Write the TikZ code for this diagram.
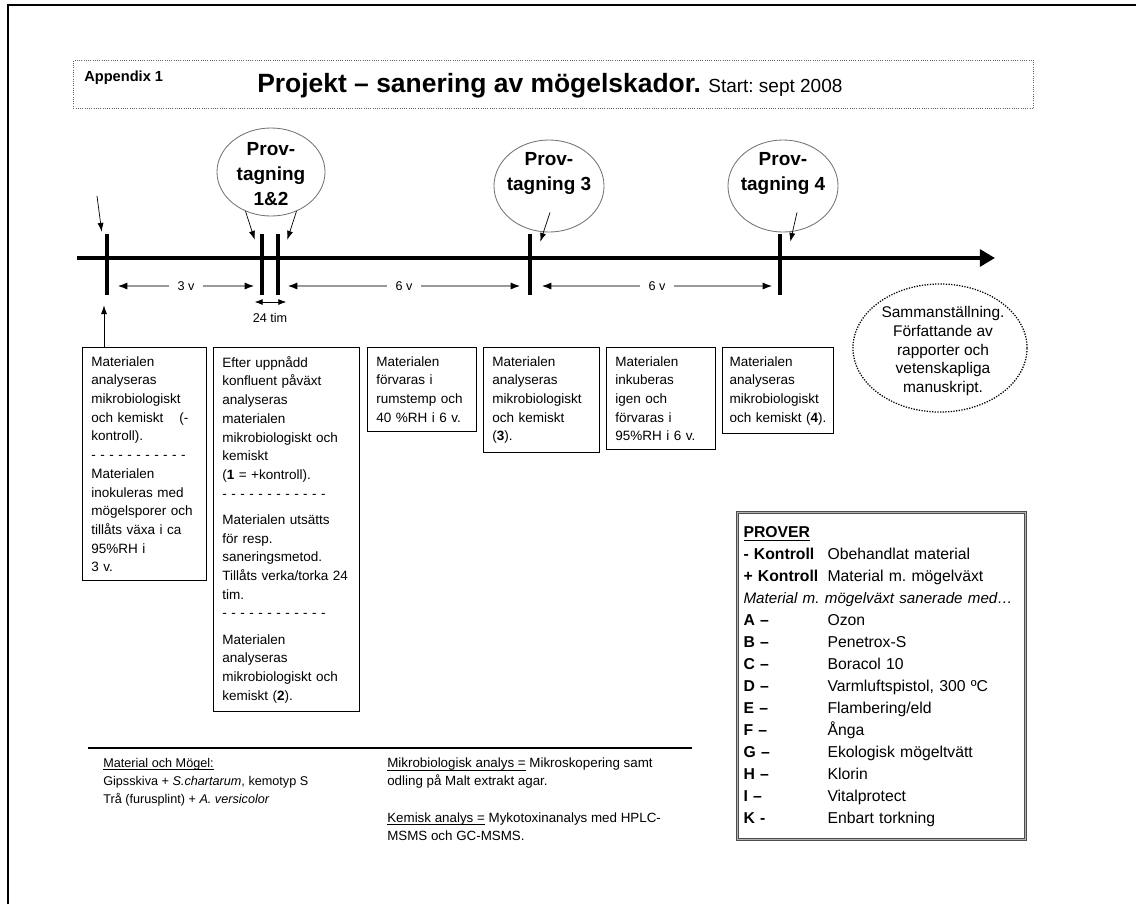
\documentclass[tikz,border=0pt]{standalone}
\usepackage{fontspec}
\setmainfont{Liberation Sans}
\usepackage{tikz}
\usetikzlibrary{arrows.meta}
\usetikzlibrary{shapes.geometric}
\usetikzlibrary{calc}
\newcommand{\lowline}[1]{\underline{\raisebox{0pt}[\height][0pt]{#1}}}
\tikzset{%
    stage/.style={draw, line width=0.7pt, anchor=north west, align=left, inner xsep=0.22cm, inner ysep=0.22cm, font=\fontsize{9.6}{13.3}\selectfont},
    tickmark/.style={inner sep=0pt, fill=black, minimum width=0.1cm, minimum height=1.525cm},
    txt/.style={inner sep=0pt}
}

\begin{document}
\frenchspacing
\begin{tikzpicture}[x=0.025cm, y=-0.025cm,
            probe/.style={ellipse, draw=black!55, line width=0.6pt, inner sep=0pt, minimum width=2.75cm},
            probetxt/.style={txt, align=center, font=\fontsize{13.5}{17.8}\selectfont\bfseries},
            pointer/.style={line width=0.5pt, -{Latex[length=0.22cm,width=0.15cm]}},
            interval/.style={draw=black!40, line width=1.4pt, {Latex[color=black,length=0.25cm,width=0.18cm]}-{Latex[color=black,length=0.25cm,width=0.18cm]}},
            intlbl/.style={fill=white, inner xsep=0.22cm, inner ysep=1pt, font=\fontsize{9}{10}\selectfont},
            summary/.style={ellipse, draw, densely dotted, line width=0.9pt, minimum width=4.35cm, minimum height=3.2cm},
            keybox/.style={draw=black!70, line width=0.7pt, double=black!30, double distance=0.9pt, anchor=north west, align=left, inner xsep=0.15cm, inner ysep=0.25cm, font=\fontsize{11.2}{15.6}\selectfont}
            ]
            \useasboundingbox (0,0) rectangle (1136,904);
            \draw[line width=1.4pt] (8,904) -- (8,5) -- (1136,5);

            \node[draw=black!60, densely dotted, line width=0.6pt, anchor=north west, minimum width=24cm, minimum height=1.2cm] (head) at (73,60) {};
            \node[txt, anchor=base west, font=\fontsize{10.4}{12}\selectfont\bfseries] (appx) at (84,81) {Appendix 1};
            \node[txt, anchor=base west, font=\fontsize{18.8}{22}\selectfont\bfseries] (title) at (257,92) {Projekt – sanering av mögelskador. {\mdseries\fontsize{13.5}{16}\selectfont Start: sept 2008}};

            \coordinate (tstart) at (77,258);
            \coordinate (tend) at (995,258);
            \draw[line width=0.1cm, -{Triangle[length=0.38cm,width=0.42cm]}] (tstart) -- (tend);

            \node[tickmark] (k1) at (107,264.5) {};
            \node[tickmark] (k2a) at (262,264.5) {};
            \node[tickmark] (k2b) at (278,264.5) {};
            \node[tickmark] (k3) at (530,264.5) {};
            \node[tickmark] (k4) at (780,264.5) {};

            \coordinate (lane) at (0,286);
            \coordinate (tim) at (0,302);
            \draw[interval] ($(k1.east |- lane)+(8,0)$) -- node[intlbl] {3 v} ($(k2a.west |- lane)+(-5,0)$);
            \draw[interval] ($(k2b.east |- lane)+(7,0)$) -- node[intlbl] {6 v} ($(k3.west |- lane)+(-7,0)$);
            \draw[interval] ($(k3.east |- lane)+(9,0)$) -- node[intlbl] {6 v} ($(k4.west |- lane)+(-5,0)$);
            \draw[line width=0.5pt, {Latex[length=0.2cm,width=0.15cm]}-{Latex[length=0.2cm,width=0.15cm]}] ($(k2a.west |- tim)+(-5,0)$) -- ($(k2b.east |- tim)+(6,0)$);
            \node[txt, font=\fontsize{9}{10}\selectfont] (timlbl) at (270,318) {24 tim};

            \node[probe, minimum width=2.7cm, minimum height=2.2cm] (e12) at (271,172) {};
            \node[probetxt] (e12txt) at (271,174) {Prov-\\tagning\\1\&2};
            \node[probe, minimum height=2.3cm] (e3) at (549,186) {};
            \node[probetxt] (e3txt) at (549,173) {Prov-\\tagning 3};
            \node[probe, minimum height=2.3cm] (e4) at (783,186) {};
            \node[probetxt] (e4txt) at (783,173) {Prov-\\tagning 4};

            \coordinate (cue) at (97,196);
            \draw[pointer] (cue) -- ($(k1.north west)+(-3,-2)$);
            \draw[pointer] (e12.237) -- ($(k2a.north west)+(-5,6)$);
            \draw[pointer] (e12.303) -- ($(k2b.north east)+(7,6)$);
            \draw[pointer] ($(e3.south)+(1,-20)$) -- ($(k3.north east)+(8,8)$);
            \draw[pointer] ($(e4.south)+(14,-20)$) -- ($(k4.north east)+(8,8)$);

            \node[summary] (sum) at (940,348) {};
            \node[txt, align=center, font=\fontsize{11}{13.3}\selectfont] (sumtxt) at (943,351) {Sammanställning.\\Författande av\\rapporter och\\vetenskapliga\\manuskript.};

            \node[stage, text width=2.66cm] (b1) at (82,347) {Materialen\\analyseras\\mikrobiologiskt\\och kemiskt\hspace{0.4cm}(-\\kontroll).\\- - - - - - - - - - -\\Materialen\\inokuleras med\\mögelsporer och\\tillåts växa i ca\\95\%RH i\\3 v.};
            \node[stage, text width=3.21cm] (b2) at (213,347) {Efter uppnådd\\konfluent påväxt\\analyseras\\materialen\\mikrobiologiskt och\\kemiskt\\(\textbf{1} = +kontroll).\\- - - - - - - - - - - -\\[0.19cm]Materialen utsätts\\för resp.\\saneringsmetod.\\Tillåts verka/torka 24\\tim.\\- - - - - - - - - - - -\\[0.19cm]Materialen\\analyseras\\mikrobiologiskt och\\kemiskt (\textbf{2}).};
            \node[stage, text width=2.285cm] (b3) at (367,347) {Materialen\\förvaras i\\rumstemp och\\40 \%RH i 6 v.};
            \node[stage, text width=2.46cm] (b4) at (483,347) {Materialen\\analyseras\\mikrobiologiskt\\och kemiskt\\(\textbf{3}).};
            \node[stage, text width=2.285cm] (b5) at (606,347) {Materialen\\inkuberas\\igen och\\förvaras i\\95\%RH i 6 v.};
            \node[stage, text width=2.42cm, inner xsep=0.18cm] (b6) at (722,347) {Materialen\\analyseras\\mikrobiologiskt\\och kemiskt (\textbf{4}).};

            \draw[pointer] ($(b1.north west)+(22,0)$) -- ($(k1.south)+(-3,10)$);

            \node[keybox, text width=6.9cm] (prover) at (737,512) {\noindent\begin{tabular}{@{}p{2.1cm}@{}l@{}}
                \multicolumn{2}{@{}l@{}}{\underline{\textbf{PROVER}}}\\
                \textbf{- Kontroll} & Obehandlat material\\
                \textbf{+ Kontroll} & Material m. mögelväxt\\
                \multicolumn{2}{@{}l@{}}{\fontsize{10.8}{15.6}\selectfont\textit{Material m. mögelväxt sanerade med…}}\\
                \textbf{A –} & Ozon\\
                \textbf{B –} & Penetrox-S\\
                \textbf{C –} & Boracol 10\\
                \textbf{D –} & Varmluftspistol, 300 ºC\\
                \textbf{E –} & Flambering/eld\\
                \textbf{F –} & Ånga\\
                \textbf{G –} & Ekologisk mögeltvätt\\
                \textbf{H –} & Klorin\\
                \textbf{I –} & Vitalprotect\\
                \textbf{K -} & Enbart torkning
            \end{tabular}};

            \draw[line width=0.8pt] (88,748) -- (692,748);
            \node[txt, anchor=north west, align=left, font=\fontsize{9}{12.8}\selectfont] (fungi) at (103,758) {\lowline{Material och Mögel:}\\Gipsskiva + \textit{S.chartarum}, kemotyp S\\Trå (furusplint) + \textit{A. versicolor}};
            \node[txt, anchor=north west, align=left, font=\fontsize{9.5}{12.8}\selectfont] (assays) at (387,758) {\lowline{Mikrobiologisk analys =} Mikroskopering samt\\odling på Malt extrakt agar.\\[0.47cm]\lowline{Kemisk analys =} Mykotoxinanalys med HPLC-\\MSMS och GC-MSMS.};
        \end{tikzpicture}
\end{document}
